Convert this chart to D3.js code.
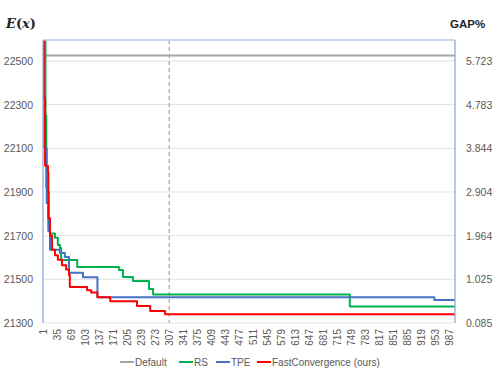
<!DOCTYPE html>
<html><head><meta charset="utf-8">
<script src="https://cdn.jsdelivr.net/npm/d3@7"></script>
<style>body{margin:0;background:#fff}svg{display:block}</style>
</head><body>
<svg id="c" width="498" height="374"></svg>
<script>
// ---- data ----
const iterations = d3.range(1, 1001);
const tickLabels = d3.range(1, 1000, 34);
const seriesNames = ["Default", "RS", "TPE", "FastConvergence (ours)"];
const seriesColors = ["#A5A5A5", "#00B050", "#4472C4", "#FF0000"];
const yTicksLeft = [21300, 21500, 21700, 21900, 22100, 22300, 22500];
const yTicksRight = ["0.085", "1.025", "1.964", "2.904", "3.844", "4.783", "5.723"];
// step breakpoints: [iteration, value]
const defaultSteps = [[1, 22525], [1000, 22525]];
const rsSteps = [[1, 22700], [7, 22250], [9, 21920], [12, 21900], [15, 21740], [18, 21710], [30, 21690], [37, 21657], [42, 21643], [45, 21589], [84, 21556], [185, 21543], [195, 21511], [219, 21492], [258, 21456], [268, 21430], [745, 21375], [1000, 21375]];
const tpeSteps = [[1, 22700], [4, 22100], [10, 21850], [14, 21720], [18, 21635], [42, 21620], [54, 21602], [64, 21530], [98, 21510], [133, 21418], [950, 21405], [1000, 21405]];
const fcSteps = [[1, 22700], [3, 22330], [6, 22020], [13, 21990], [14, 21780], [18, 21700], [23, 21635], [30, 21610], [37, 21590], [47, 21565], [57, 21545], [64, 21520], [66, 21465], [108, 21450], [118, 21440], [133, 21418], [164, 21400], [229, 21378], [261, 21355], [297, 21340], [1000, 21340]];
const markerIteration = 307;

// ---- layout ----
const svg = d3.select("#c");
const L = 43, R = 455, T = 40, B = 323;
const x = d3.scaleLinear().domain([1, 1000]).range([L, R]);
const y = d3.scaleLinear().domain([21300, 22596]).range([B, T]);

// gridlines
svg.append("g").selectAll("line").data(yTicksLeft).join("line")
  .attr("x1", L).attr("x2", R).attr("y1", d => y(d)).attr("y2", d => y(d))
  .attr("stroke", "#E3E3E3").attr("stroke-width", 1);

// left axis labels
const fontTick = "'Liberation Sans', Arial, sans-serif";
svg.append("g").selectAll("text").data(yTicksLeft).join("text")
  .attr("x", 33).attr("y", d => y(d) + 4).attr("text-anchor", "end")
  .attr("font-family", fontTick).attr("font-size", 10.5).attr("fill", "#595959")
  .text(d => d);
// right axis labels (GAP%)
svg.append("g").selectAll("text").data(yTicksLeft).join("text")
  .attr("x", 466).attr("y", d => y(d) + 4).attr("text-anchor", "start")
  .attr("font-family", fontTick).attr("font-size", 10.5).attr("fill", "#595959")
  .text((d, i) => yTicksRight[i]);

// x tick labels
svg.append("g").selectAll("text").data(tickLabels).join("text")
  .attr("transform", d => `translate(${x(d) + 3.5},329) rotate(-90)`)
  .attr("text-anchor", "end")
  .attr("font-family", fontTick).attr("font-size", 10).attr("fill", "#595959")
  .text(d => d);

// clip
svg.append("clipPath").attr("id", "clip").append("rect")
  .attr("x", L).attr("y", T).attr("width", R - L).attr("height", B - T);

// dashed marker
svg.append("line").attr("x1", x(markerIteration)).attr("x2", x(markerIteration))
  .attr("y1", T).attr("y2", B).attr("stroke", "#A5A5A5").attr("stroke-width", 1.2)
  .attr("stroke-dasharray", "4,3");

// series
const line = d3.line().x(d => x(d[0])).y(d => y(d[1])).curve(d3.curveStepAfter);
const all = [defaultSteps, rsSteps, tpeSteps, fcSteps];
const g = svg.append("g").attr("clip-path", "url(#clip)");
all.forEach((s, i) => {
  g.append("path").datum(s).attr("d", line).attr("fill", "none")
    .attr("stroke", seriesColors[i]).attr("stroke-width", 2)
    .attr("stroke-linejoin", "round");
});

// frame: top, left, right in light blue
svg.append("line").attr("x1", L).attr("x2", R).attr("y1", T).attr("y2", T).attr("stroke", "#B4C7E7").attr("stroke-width", 1.3);
svg.append("line").attr("x1", L).attr("x2", L).attr("y1", T).attr("y2", B).attr("stroke", "#8FAADC").attr("stroke-width", 1.3);
svg.append("line").attr("x1", R).attr("x2", R).attr("y1", T).attr("y2", B).attr("stroke", "#8FAADC").attr("stroke-width", 1.3);

// axis titles
const et = svg.append("text").attr("x", 6).attr("y", 28)
  .attr("font-family", "'DejaVu Serif', 'Liberation Serif', serif").attr("font-size", 13)
  .attr("font-weight", "bold").attr("fill", "#222");
et.append("tspan").attr("font-style", "italic").text("E");
et.append("tspan").text("(");
et.append("tspan").attr("font-style", "italic").text("x");
et.append("tspan").text(")");
svg.append("text").attr("x", 450).attr("y", 28)
  .attr("font-family", fontTick).attr("font-size", 11.5).attr("font-weight", "bold")
  .attr("fill", "#222").text("GAP%");

// legend
const legendX = [120, 179, 216, 257];
const lg = svg.append("g");
seriesNames.forEach((n, i) => {
  lg.append("line").attr("x1", legendX[i]).attr("x2", legendX[i] + 14)
    .attr("y1", 362).attr("y2", 362).attr("stroke", seriesColors[i]).attr("stroke-width", 2);
  lg.append("text").attr("x", legendX[i] + 15).attr("y", 365.5)
    .attr("font-family", fontTick).attr("font-size", 10).attr("fill", "#595959").text(n);
});
</script>
</body></html>
